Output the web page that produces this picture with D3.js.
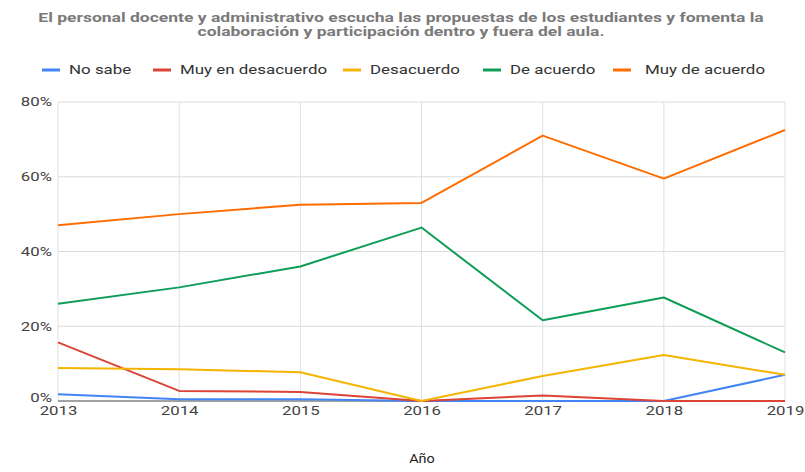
<!DOCTYPE html>
<html><head><meta charset="utf-8">
<script src="https://cdn.jsdelivr.net/npm/d3@7"></script>
<style>body{margin:0;background:#fff}svg{display:block}text{font-family:Roboto,Arial,sans-serif}</style>
</head><body><svg id="c" width="805" height="472"></svg>
<script>
const years = [2013, 2014, 2015, 2016, 2017, 2018, 2019];
const seriesNames = ["No sabe", "Muy en desacuerdo", "Desacuerdo", "De acuerdo", "Muy de acuerdo"];
const noSabe = [1.8, 0.5, 0.5, 0, 0, 0, 7];
const muyEnDesacuerdo = [15.7, 2.7, 2.4, 0, 1.5, 0, 0];
const desacuerdo = [8.8, 8.5, 7.7, 0, 6.7, 12.3, 7];
const deAcuerdo = [26, 30.4, 36, 46.4, 21.6, 27.7, 13];
const muyDeAcuerdo = [47, 50, 52.5, 53, 71, 59.5, 72.5];
const yTicks = [0, 20, 40, 60, 80];
const colors = ["#4285F4", "#DB4437", "#F4B400", "#0F9D58", "#FF6D01"];
const titleLines = ["El personal docente y administrativo escucha las propuestas de los estudiantes y fomenta la", "colaboración y participación dentro y fuera del aula."];
const xTitle = "Año";

const allSeries = [noSabe, muyEnDesacuerdo, desacuerdo, deAcuerdo, muyDeAcuerdo];
const svg = d3.select("#c");
const m = {l: 58, r: 20, t: 102, b: 71};
const W = 805, H = 472;
const SX = 1.4;
const x = d3.scaleLinear().domain([2013, 2019]).range([m.l, W - m.r]);
const y = d3.scaleLinear().domain([0, 80]).range([H - m.b, m.t]);

function stretched(parent, tx, ty, sx, str) {
  return parent.append("text").attr("transform", `translate(${tx},${ty}) scale(${sx},1)`).text(str);
}

// grid
const g = svg.append("g");
g.selectAll(".vg").data(years).join("line")
  .attr("x1", d => x(d)).attr("x2", d => x(d))
  .attr("y1", y(80)).attr("y2", y(0))
  .attr("stroke", "#e0e0e0").attr("stroke-width", 1);
g.selectAll(".hg").data(yTicks).join("line")
  .attr("x1", x(2013)).attr("x2", x(2019))
  .attr("y1", d => y(d)).attr("y2", d => y(d))
  .attr("stroke", d => d === 0 ? "#444" : "#dcdcdc").attr("stroke-width", 1);

// axes via d3
const yAxis = d3.axisLeft(y).tickValues(yTicks).tickFormat(d => d + "%").tickSize(0);
svg.append("g").attr("transform", `translate(${m.l},0)`).call(yAxis)
  .call(a => a.select(".domain").remove())
  .selectAll("text").attr("x", 0).attr("fill", "#444").attr("font-size", 12)
  .attr("transform", d => `translate(-6,${d === 0 ? -3.5 : 0}) scale(${SX},1)`);
const xAxis = d3.axisBottom(x).tickValues(years).tickFormat(d3.format("d")).tickSize(0);
svg.append("g").attr("transform", `translate(0,${y(0)})`).call(xAxis)
  .call(a => a.select(".domain").remove())
  .selectAll("text").attr("y", 0).attr("fill", "#444").attr("font-size", 12)
  .attr("transform", `translate(0,5.5) scale(${SX},1)`);

// lines
const line = d3.line().x((d, i) => x(years[i])).y(d => y(d));
allSeries.forEach((s, k) => {
  svg.append("path").datum(s).attr("d", line).attr("fill", "none")
    .attr("stroke", colors[k]).attr("stroke-width", 2).attr("stroke-linejoin", "round");
});

// title
const tg = svg.append("g").attr("font-size", 12).attr("font-weight", "bold").attr("fill", "#7a7a7a").attr("text-anchor", "middle");
titleLines.forEach((t, i) => stretched(tg, 401, 22 + i * 13.5, 1.46, t));

// legend
const legX = [42, 153, 343, 483, 613];
const leg = svg.append("g").attr("font-size", 12).attr("fill", "#333");
seriesNames.forEach((n, k) => {
  leg.append("line").attr("x1", legX[k]).attr("x2", legX[k] + 18).attr("y1", 70).attr("y2", 70)
    .attr("stroke", colors[k]).attr("stroke-width", 3);
  stretched(leg, legX[k] + (k === 4 ? 32 : 27), 74, 1.41, n);
});

// x title
const xt = svg.append("g").attr("font-size", 12).attr("fill", "#222").attr("text-anchor", "middle");
stretched(xt, 422, 463, 1.2, xTitle);
</script></body></html>
